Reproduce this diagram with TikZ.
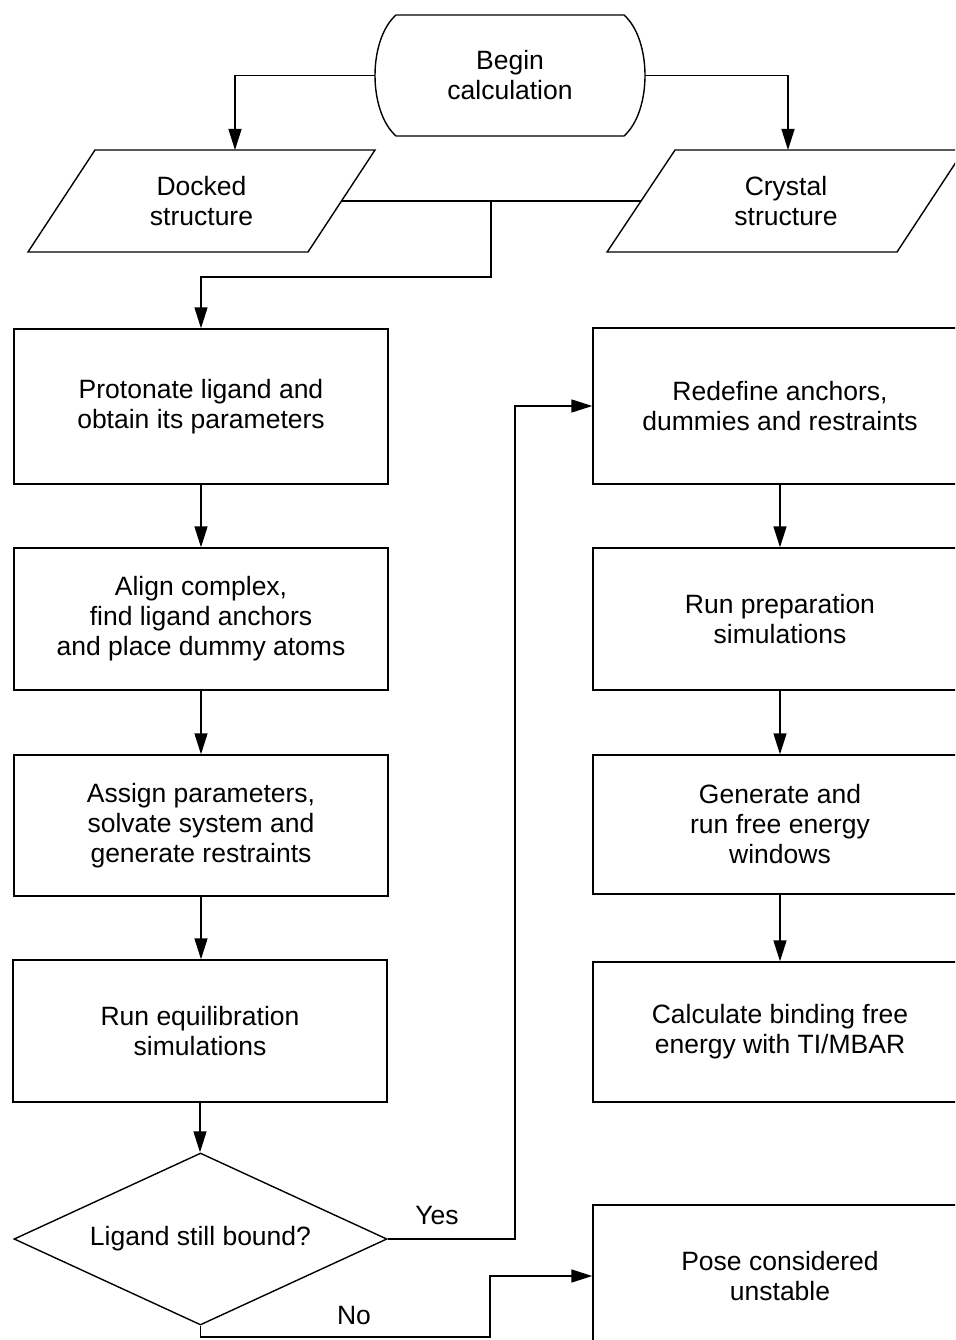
\documentclass[tikz,border=0pt]{standalone}
\usepackage{fontspec}
\setmainfont{Liberation Sans}
\usetikzlibrary{arrows.meta,shapes.geometric,calc}
\begin{document}
\begin{tikzpicture}[x=1pt,y=-1pt,
  every node/.style={font=\fontsize{26.5}{30}\selectfont, align=center, inner sep=0pt},
  line/.style={line width=1.4pt, line join=miter},
  arr/.style={line, -{Triangle[length=21pt,width=13pt]}},
  procbox/.style={draw, line width=1.4pt, minimum width=374pt},
  lbl/.style={font=\fontsize{26.5}{30}\selectfont}
]
\useasboundingbox (0,0) rectangle (955,1340);
\fill[white] (0,0) rectangle (955,1340);
\clip (0,0) rectangle (955,1340);

% Begin terminal
\node[minimum width=270pt, minimum height=121pt] (begin) at (510,75.5) {Begin\\calculation};
\draw[line] (396,15) -- (624,15) .. controls (652,40) and (652,111) .. (624,136)
  -- (396,136) .. controls (368,111) and (368,40) .. (396,15) -- cycle;

% Parallelograms
\draw[line] (95,150) -- (375,150) -- (308,252) -- (28,252) -- cycle;
\node[minimum width=280pt, minimum height=102pt] (docked) at (201.5,201) {Docked\\structure};
\coordinate (dockedtop) at (235,150);

\draw[line] (675,150) -- (964,150) -- (897,252) -- (607,252) -- cycle;
\node[minimum width=290pt, minimum height=102pt] (crystal) at (786,201) {Crystal\\structure};
\coordinate (crystaltop) at (788,150);

% Left column
\node[procbox, minimum height=155pt] (protonate) at (201,406.5) {Protonate ligand and\\obtain its parameters};
\node[procbox, minimum height=142pt] (align) at (201,619) {Align complex,\\find ligand anchors\\and place dummy atoms};
\node[procbox, minimum height=141pt] (assign) at (201,825.5) {Assign parameters,\\solvate system and\\generate restraints};
\node[procbox, minimum height=142pt] (equil) at (200,1031) {Run equilibration\\simulations};
\node[draw, line width=1.4pt, shape=diamond, aspect=2.17, minimum width=373pt, minimum height=172pt] (bound) at (200.5,1239) {Ligand still bound?};

% Right column
\node[procbox, minimum height=156pt] (redefine) at (780,406) {Redefine anchors,\\dummies and restraints};
\node[procbox, minimum height=142pt] (prep) at (780,619) {Run preparation\\simulations};
\node[procbox, minimum height=139pt] (generate) at (780,824.5) {Generate and\\run free energy\\windows};
\node[procbox, minimum height=140pt] (calc) at (780,1032) {Calculate binding free\\energy with TI/MBAR};
\node[procbox, minimum height=142pt] (pose) at (780,1276) {Pose considered\\unstable};

% Connectors
\draw[arr] (begin.west) -| (dockedtop);
\draw[arr] (begin.east) -| (crystaltop);
\coordinate (junc) at (491,201);
\coordinate (junclow) at (491,277);
\draw[line] (docked.east) -- (crystal.west);
\draw[arr] (junc) -- (junclow) -| (protonate.north);
\draw[arr] (protonate.south) -- (align.north);
\draw[arr] (align.south) -- (assign.north);
\draw[arr] (assign.south) -- (assign.south |- equil.north);
\draw[arr] (equil.south) -- (equil.south |- bound.north);
\draw[arr] (redefine.south) -- (prep.north);
\draw[arr] (prep.south) -- (generate.north);
\draw[arr] (generate.south) -- (calc.north);

\coordinate (yescorner) at (515,1239);
\draw[arr] (bound.east) -- (yescorner) |- (redefine.west);
\node[lbl] (yes) at (437,1215) {Yes};

\coordinate (nocorner) at (490,1337);
\draw[arr] (bound.south) |- (nocorner) |- (pose.west);
\node[lbl] (no) at (354,1315) {No};
\end{tikzpicture}
\end{document}
